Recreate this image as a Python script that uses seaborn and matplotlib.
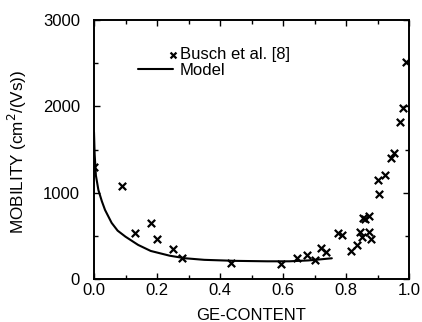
import matplotlib
matplotlib.use("Agg")
import matplotlib.pyplot as plt
import seaborn as sns
import pandas as pd
from matplotlib.ticker import MultipleLocator
from matplotlib.legend_handler import HandlerPathCollection

# Measured data (Busch et al. [8])
busch_x = [0.0, 0.09, 0.13, 0.18, 0.20, 0.25, 0.28, 0.435, 0.594, 0.644, 0.675, 0.70,
           0.72, 0.737, 0.774, 0.786, 0.816, 0.834, 0.844, 0.851, 0.853, 0.86, 0.872,
           0.873, 0.879, 0.90, 0.905, 0.924, 0.943, 0.952, 0.971, 0.98, 0.99]
busch_y = [1300, 1078, 530, 645, 463, 351, 243, 182, 174, 247, 278, 224,
           355, 313, 537, 506, 321, 394, 541, 490, 703, 699, 730,
           541, 460, 1147, 981, 1205, 1405, 1456, 1823, 1978, 2511]

# Model curve
model_x = [0.0, 0.002, 0.006, 0.014, 0.025, 0.035, 0.056, 0.075, 0.10, 0.14, 0.18,
           0.24, 0.29, 0.35, 0.45, 0.55, 0.62, 0.68, 0.72, 0.755]
model_y = [1700, 1450, 1200, 1030, 900, 800, 650, 560, 490, 395, 325,
           270, 240, 222, 210, 205, 205, 215, 228, 240]

x_ticks = [0.0, 0.2, 0.4, 0.6, 0.8, 1.0]
y_ticks = [0, 1000, 2000, 3000]


class RightMarkerHandler(HandlerPathCollection):
    def get_xdata(self, legend, xdescent, ydescent, width, height, fontsize):
        xdata = [-xdescent, -xdescent + width]
        return xdata, [-xdescent + width]


sns.set_theme(style="white")
plt.rcParams['font.family'] = ['Liberation Sans', 'DejaVu Sans']
plt.rcParams.update({"text.color": "black", "axes.labelcolor": "black",
                     "xtick.color": "black", "ytick.color": "black"})

fig = plt.figure(figsize=(4.22, 3.22), dpi=100)
ax = fig.add_axes([94/422, 1-279/322, (409-94)/422, (279-20)/322])

df_b = pd.DataFrame({"x": busch_x, "y": busch_y})
df_m = pd.DataFrame({"x": model_x, "y": model_y})

sns.lineplot(data=df_m, x="x", y="y", ax=ax, color="black", linewidth=1.5,
             label="Model", sort=False)
sns.scatterplot(data=df_b, x="x", y="y", ax=ax, marker="x", color="black",
                s=28, linewidth=1.6, label="Busch et al. [8]")

ax.set_xlim(0, 1.0)
ax.set_ylim(0, 3000)
ax.set_xticks(x_ticks)
ax.set_xticklabels([f"{t:.1f}" for t in x_ticks])
ax.set_yticks(y_ticks)
ax.set_yticklabels([str(t) for t in y_ticks])
ax.xaxis.set_minor_locator(MultipleLocator(0.1))
ax.yaxis.set_minor_locator(MultipleLocator(500))
ax.tick_params(which="both", direction="in", top=True, right=True,
               bottom=True, left=True, color="black", width=1.0)
ax.tick_params(which="major", length=4, labelsize=12, labelcolor="black")
ax.tick_params(axis="y", which="major", pad=10)
ax.tick_params(axis="x", which="major", pad=3)
ax.tick_params(which="minor", length=3)
for s in ax.spines.values():
    s.set_color("black")
    s.set_linewidth(1.4)

ax.set_xlabel("GE-CONTENT", fontsize=12, color="black")
ax.set_ylabel("MOBILITY (cm$^2$/(Vs))", fontsize=12.3, color="black")
ax.xaxis.set_label_coords(0.5, -0.112)
ax.yaxis.set_label_coords(-0.205, 0.49)

handles, labels = ax.get_legend_handles_labels()
order = [labels.index("Busch et al. [8]"), labels.index("Model")]
sc_handle = handles[order[0]]
leg = ax.legend([handles[i] for i in order], [labels[i] for i in order],
                loc="upper left", bbox_to_anchor=(0.14, 0.894), frameon=False,
                fontsize=12, handlelength=2.1, handletextpad=0.42,
                labelspacing=0.05, borderpad=0.0, borderaxespad=0.0,
                markerscale=0.8, labelcolor="black",
                handler_map={type(sc_handle): RightMarkerHandler()})

fig.savefig("out.png", dpi=100)
